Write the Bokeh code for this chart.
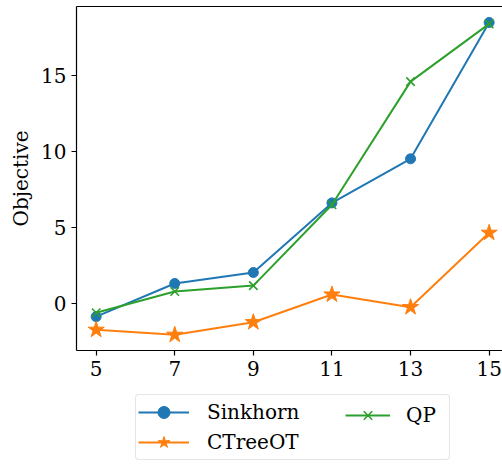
from bokeh.plotting import figure
from bokeh.layouts import column
from bokeh.models import Range1d, FixedTicker, LinearAxis, Legend, LegendItem
from bokeh.embed import file_html
from bokeh.resources import INLINE

# data
x_vals = [5, 7, 9, 11, 13, 15]
sinkhorn = [-0.86, 1.32, 2.04, 6.62, 9.52, 18.49]
ctreeot = [-1.73, -2.06, -1.23, 0.59, -0.24, 4.65]
qp = [-0.61, 0.79, 1.18, 6.5, 14.6, 18.4]
x_ticks = [5, 7, 9, 11, 13, 15]
y_ticks = [0, 5, 10, 15]
y_label = "Objective"
series_names = ["Sinkhorn", "CTreeOT", "QP"]

FONT = "DejaVu Serif"
FS = "20px"
BLUE, ORANGE, GREEN = "#1f77b4", "#ff7f0e", "#2ca02c"


def draw_series(fig):
    l1 = fig.line(x_vals, sinkhorn, line_color=BLUE, line_width=2)
    s1 = fig.scatter(x_vals, sinkhorn, marker="circle", size=10, fill_color=BLUE, line_color=BLUE)
    l2 = fig.line(x_vals, ctreeot, line_color=ORANGE, line_width=2)
    s2 = fig.scatter(x_vals, ctreeot, marker="star", size=17, fill_color=ORANGE, line_color=ORANGE)
    l3 = fig.line(x_vals, qp, line_color=GREEN, line_width=2)
    s3 = fig.scatter(x_vals, qp, marker="x", size=12, line_color=GREEN, line_width=1.6)
    return (l1, s1), (l2, s2), (l3, s3)


# ---------------- main chart ----------------
p = figure(width=502, height=390, output_backend="svg", toolbar_location=None,
           x_range=Range1d(4.5, 15.34), y_range=Range1d(-3.09, 19.54),
           min_border_left=76, min_border_right=0, min_border_top=6, min_border_bottom=40)
p.outline_line_color = None
p.grid.visible = False
p.background_fill_color = "white"
p.border_fill_color = "white"

for ax in (p.xaxis[0], p.yaxis[0]):
    ax.major_label_text_font = FONT
    ax.major_label_text_font_size = FS
    ax.major_label_text_color = "black"
    ax.axis_line_color = "black"
    ax.axis_line_width = 1.2
    ax.major_tick_line_color = "black"
    ax.major_tick_line_width = 1.2
    ax.major_tick_in = 0
    ax.major_tick_out = 5
    ax.minor_tick_line_color = None
    ax.major_label_standoff = 5
p.xaxis[0].ticker = FixedTicker(ticks=x_ticks)
p.yaxis[0].ticker = FixedTicker(ticks=y_ticks)
p.yaxis[0].axis_label = y_label
p.yaxis[0].axis_label_text_font = FONT
p.yaxis[0].axis_label_text_font_size = FS
p.yaxis[0].axis_label_text_font_style = "normal"
p.yaxis[0].axis_label_text_color = "black"
p.yaxis[0].axis_label_standoff = 5

top = LinearAxis(ticker=FixedTicker(ticks=[]), major_label_text_font_size="0px",
                 major_tick_out=0, major_tick_in=0, minor_tick_line_color=None,
                 axis_line_color="black", axis_line_width=1.2)
p.add_layout(top, "above")

draw_series(p)

# ---------------- legend strip ----------------
lp = figure(width=502, height=74, output_backend="svg", toolbar_location=None,
            x_range=Range1d(0, 1), y_range=Range1d(0, 1),
            x_axis_type=None, y_axis_type=None,
            min_border_left=0, min_border_right=0, min_border_top=0, min_border_bottom=0)
lp.outline_line_color = None
lp.grid.visible = False
lp.background_fill_color = "white"
lp.border_fill_color = "white"

r_sink, r_ctree, r_qp = draw_series(lp)


def style(leg):
    leg.label_text_font = FONT
    leg.label_text_font_size = FS
    leg.label_text_color = "black"
    leg.glyph_height = 30
    leg.label_height = 20
    leg.padding = 2
    leg.spacing = 0
    leg.margin = 0


legA = Legend(items=[LegendItem(label=series_names[0], renderers=list(r_sink)),
                     LegendItem(label=series_names[1], renderers=list(r_ctree))],
              location=(59, 4))
style(legA)
legA.glyph_width = 51
legA.label_standoff = 18
legA.label_width = 240
legA.border_line_color = "#cccccc"
legA.border_line_width = 1
legA.border_radius = 4
legA.background_fill_color = "white"
legA.background_fill_alpha = 0.8

legB = Legend(items=[LegendItem(label=series_names[2], renderers=list(r_qp))],
              location=(269, 34))
style(legB)
legB.glyph_width = 45
legB.label_standoff = 16
legB.border_line_color = None
legB.background_fill_alpha = 0

lp.add_layout(legA, "center")
lp.add_layout(legB, "center")

layout = column(p, lp, spacing=0)
open("out.html", "w").write(file_html(layout, INLINE))
